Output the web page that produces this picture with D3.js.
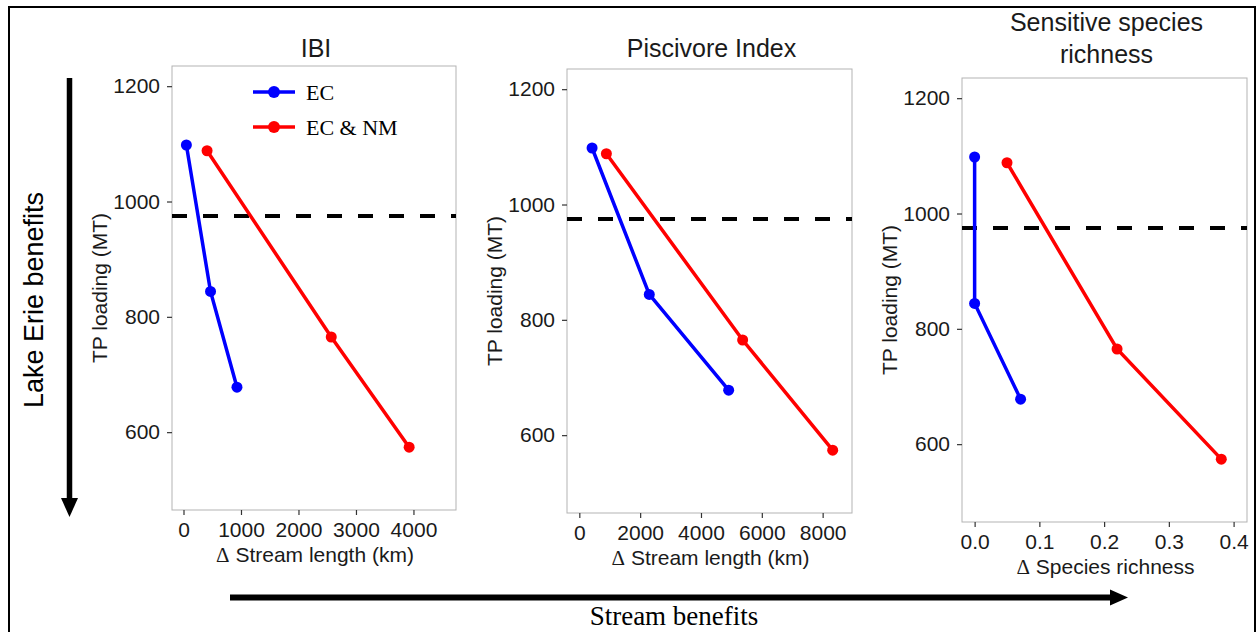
<meta charset="utf-8">
<title>TP loading vs stream benefits</title>
<style>
  body { margin: 0; background: #fff; }
  text { font-family: "Liberation Sans", Arial, sans-serif; fill: #1a1a1a; }
  .serif { font-family: "Liberation Serif", "Times New Roman", serif; }
</style>
<body>
<script src="https://d3js.org/d3.v7.min.js"></script>
<script>
// data ===================================================================================
var seriesNames = ['EC', 'EC & NM'];
var tpEC   = [1098, 844, 678];      // TP loading (MT)
var tpECNM = [1088, 765, 574];
var targetTP = 975;                 // dashed target line

var ibiEC   = [50, 470, 930];       // delta stream length (km), IBI
var ibiECNM = [410, 2570, 3925];
var pisEC   = [420, 2300, 4910];    // delta stream length (km), piscivore index
var pisECNM = [890, 5370, 8330];
var ssrEC   = [0, 0, 0.071];        // delta species richness
var ssrECNM = [0.05, 0.22, 0.381];

var yTicks = [600, 800, 1000, 1200];
var ibiTicks = [0, 1000, 2000, 3000, 4000];
var pisTicks = [0, 2000, 4000, 6000, 8000];
var ssrTicks = [0, 0.1, 0.2, 0.3, 0.4];

var colors = ['#0000ff', '#ff0000'];

var W = 1259, H = 632;
var svg = d3.select('body').append('svg')
            .attr('width', W)
            .attr('height', H);

// outer frame
svg.append('rect')
    .attr('x', 9).attr('y', 7)
    .attr('width', 1246).attr('height', 700)
    .style('fill', 'none').style('stroke', '#000').style('stroke-width', 2);

// one panel ==============================================================================
function drawPanel(box, xDomain, xTicks, xFmt, ecX, ecnmX, titles, xLabel){
  var g = svg.append('g');
  var x = d3.scaleLinear().domain(xDomain).range([box.left, box.right]);
  var y = d3.scaleLinear().domain([465, 1235]).range([box.bottom, box.top]);

  g.append('rect')
    .attr('x', box.left).attr('y', box.top)
    .attr('width', box.right - box.left).attr('height', box.bottom - box.top)
    .style('fill', '#fff').style('stroke', '#b3b3b3').style('stroke-width', 1);

  var ax = g.append('g')
      .attr('transform', 'translate(0,' + box.bottom + ')')
      .call(d3.axisBottom(x).tickValues(xTicks).tickFormat(xFmt).tickSize(5).tickPadding(7));
  var ay = g.append('g')
      .attr('transform', 'translate(' + box.left + ',0)')
      .call(d3.axisLeft(y).tickValues(yTicks).tickFormat(d3.format('d')).tickSize(5).tickPadding(7));
  [ax, ay].forEach(function(a){
    a.select('.domain').remove();
    a.selectAll('line').style('stroke', '#333').style('stroke-width', 1.2);
    a.selectAll('text').style('font-size', '21px').style('fill', '#1a1a1a')
      .style('font-family', '"Liberation Sans", Arial, sans-serif');
  });

  // target line
  g.append('line')
    .attr('x1', box.left).attr('x2', box.right)
    .attr('y1', y(targetTP)).attr('y2', y(targetTP))
    .style('stroke', '#000').style('stroke-width', 4).style('stroke-dasharray', '15 16');

  var line = d3.line().x(function(d){ return x(d[0]); }).y(function(d){ return y(d[1]); });
  var sets = [d3.zip(ecX, tpEC), d3.zip(ecnmX, tpECNM)];
  sets.forEach(function(pts, k){
    g.append('path').attr('d', line(pts))
      .style('fill', 'none').style('stroke', colors[k]).style('stroke-width', 3.5);
    g.selectAll('.pt' + k).data(pts).enter().append('circle')
      .attr('cx', function(d){ return x(d[0]); })
      .attr('cy', function(d){ return y(d[1]); })
      .attr('r', 5.5)
      .style('fill', colors[k]);
  });

  var cx = (box.left + box.right) / 2;
  titles.forEach(function(t, i){
    g.append('text')
      .attr('x', cx + 2).attr('y', titles.length == 1 ? 57 : 31 + i * 32)
      .attr('text-anchor', 'middle')
      .style('font-size', '25px')
      .text(t);
  });

  var xl = g.append('text')
      .attr('x', cx + 1).attr('y', box.bottom + 52)
      .attr('text-anchor', 'middle')
      .style('font-size', '21px');
  xl.append('tspan').attr('class', 'serif').text('\u0394');
  xl.append('tspan').text(' ' + xLabel);

  g.append('text')
    .attr('transform', 'translate(' + (box.left - 65) + ',' + ((box.top + box.bottom) / 2) + ') rotate(-90)')
    .attr('text-anchor', 'middle')
    .style('font-size', '21px')
    .text('TP loading (MT)');
}

var kFmt = d3.format('d');
drawPanel({left: 172, right: 456, top: 66, bottom: 510}, [-200, 4740], ibiTicks, kFmt,
          ibiEC, ibiECNM, ['IBI'], 'Stream length (km)');
drawPanel({left: 567, right: 852, top: 69, bottom: 513}, [-405, 8965], pisTicks, kFmt,
          pisEC, pisECNM, ['Piscivore Index'], 'Stream length (km)');
drawPanel({left: 962, right: 1247, top: 78, bottom: 522}, [-0.0195, 0.4207], ssrTicks, d3.format('.1f'),
          ssrEC, ssrECNM, ['Sensitive species', 'richness'], 'Species richness');

// legend (inside IBI panel) ===============================================================
seriesNames.forEach(function(name, k){
  var ly = 92 + k * 35;
  svg.append('line')
    .attr('x1', 253).attr('x2', 295).attr('y1', ly).attr('y2', ly)
    .style('stroke', colors[k]).style('stroke-width', 3.5);
  svg.append('circle').attr('cx', 274).attr('cy', ly).attr('r', 6).style('fill', colors[k]);
  svg.append('text')
    .attr('class', 'serif')
    .attr('x', 306).attr('y', ly + 8)
    .style('font-size', '22px').style('fill', '#000')
    .text(name);
});

// arrows ====================================================================================
svg.append('line')
  .attr('x1', 69.5).attr('x2', 69.5).attr('y1', 78).attr('y2', 500)
  .style('stroke', '#000').style('stroke-width', 5.5);
svg.append('path')
  .attr('d', 'M61,498 L78,498 L69.5,517 Z').style('fill', '#000');
svg.append('text')
  .attr('transform', 'translate(43,300) rotate(-90)')
  .attr('text-anchor', 'middle')
  .style('font-size', '27px').style('fill', '#000')
  .text('Lake Erie benefits');

svg.append('line')
  .attr('x1', 230).attr('x2', 1112).attr('y1', 597.5).attr('y2', 597.5)
  .style('stroke', '#000').style('stroke-width', 6);
svg.append('path')
  .attr('d', 'M1110,589.5 L1110,605.5 L1128,597.5 Z').style('fill', '#000');
svg.append('text')
  .attr('class', 'serif')
  .attr('x', 674).attr('y', 625)
  .attr('text-anchor', 'middle')
  .style('font-size', '27px').style('fill', '#000')
  .text('Stream benefits');
</script>
